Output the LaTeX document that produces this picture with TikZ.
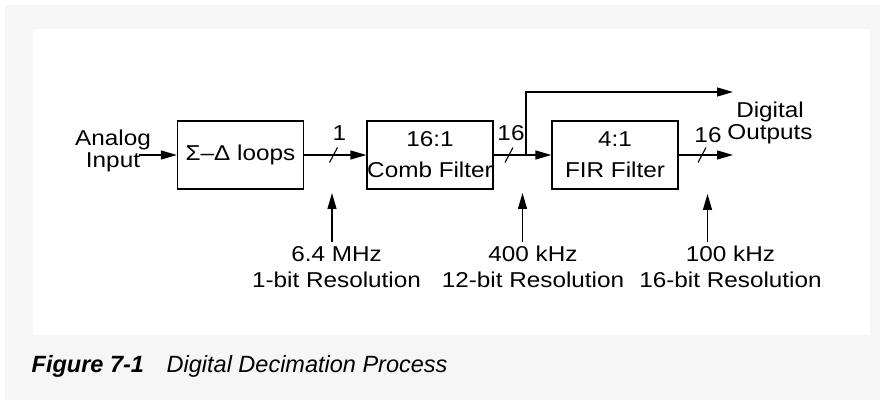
\documentclass[tikz,border=0pt]{standalone}
\usepackage{fontspec}
\setmainfont[FakeStretch=1.13]{Liberation Sans}
\newfontfamily\capfont{Liberation Sans}
\usetikzlibrary{arrows.meta}
\definecolor{pagegray}{HTML}{F6F6F6}
\tikzset{
  blockbox/.style={draw, line width=1.3pt, minimum width=126pt, minimum height=68pt, inner sep=0pt, align=center, font=\fontsize{21.5}{31}\selectfont},
  lbl/.style={inner sep=0pt, align=center, font=\fontsize{21.5}{26.5}\selectfont},
  arr/.style={line width=1.3pt, -{Triangle[length=16pt,width=9pt]}},
  wire/.style={line width=1.3pt},
  busmark/.style={line width=1.1pt}
}
\begin{document}
\begin{tikzpicture}[x=1pt,y=-1pt]
\useasboundingbox (0,0) rectangle (880,403);
\fill[pagegray] (5,5) rectangle (880,400);
\fill[white] (33,29.5) rectangle (869.5,335);

% blocks
\node[blockbox] (b1) at (240.5,155) {Σ–Δ loops};
\node[blockbox] (b2) at (430,155) {16:1\\Comb Filter};
\node[blockbox] (b3) at (615,155) {4:1\\FIR Filter};

% labels
\node[lbl, font=\fontsize{21.5}{22}\selectfont] (ain) at (113,151) {Analog\\Input};
\node[lbl, font=\fontsize{21.5}{22}\selectfont] (dout) at (770,123) {Digital\\Outputs};
\node[lbl] (n1) at (339.5,133) {1};
\node[lbl] (n2) at (511,133) {16};
\node[lbl] (n3) at (708,135.5) {16};

\node[lbl] (f1) at (336.5,267) {6.4 MHz\\1-bit Resolution};
\node[lbl] (f2) at (533,267) {400 kHz\\12-bit Resolution};
\node[lbl] (f3) at (730.5,267) {100 kHz\\16-bit Resolution};

% coordinates
\coordinate (ainE) at (139,155);
\coordinate (br) at (526,155);
\coordinate (topE) at (733,92);
\coordinate (outE) at (733,155);
\coordinate (s1) at (333.5,155);
\coordinate (s2) at (509,155);
\coordinate (s3) at (702,155);
\coordinate (a1b) at (332,242);  \coordinate (a1t) at (332,193);
\coordinate (a2b) at (522.5,242); \coordinate (a2t) at (522.5,193);
\coordinate (a3b) at (707.5,242); \coordinate (a3t) at (707.5,194);

% connectors
\draw[arr] (ainE) -- (b1.west);
\draw[arr] (b1.east) -- (b2.west);
\draw[arr] (b2.east) -- (b3.west);
\draw[arr] (br) |- (topE);
\draw[arr] (b3.east) -- (outE);

% bus slashes
\foreach \s in {s1,s2,s3}
  \draw[busmark] ([shift={(-4,7.5)}]\s) -- ([shift={(4,-7.5)}]\s);

% clock arrows
\draw[arr] (a1b) -- (a1t);
\draw[arr] (a2b) -- (a2t);
\draw[arr] (a3b) -- (a3t);

% caption
\node[anchor=base west, inner sep=0pt, font=\capfont\fontsize{23.5}{28}\selectfont\bfseries\itshape] (cap1) at (31.5,372) {Figure 7-1};
\node[anchor=base west, inner sep=0pt, font=\capfont\fontsize{23.5}{28}\selectfont\itshape] (cap2) at (166.5,372) {Digital Decimation Process};
\end{tikzpicture}
\end{document}
